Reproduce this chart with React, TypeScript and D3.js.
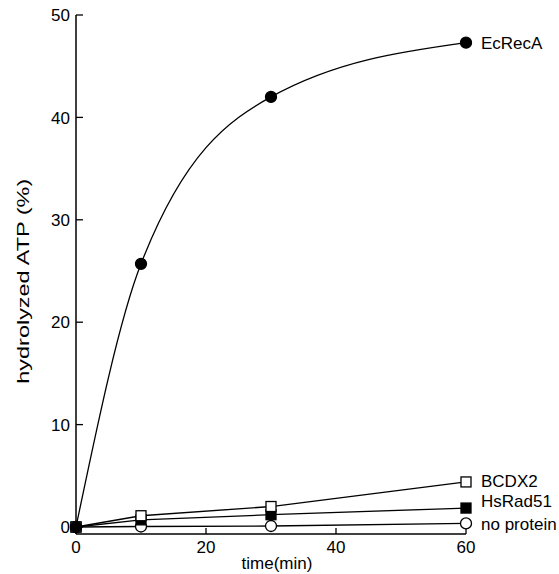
import React, { useEffect, useRef } from 'react';
import * as d3 from 'd3';

const times = [0, 10, 30, 60];
const ecRecA = [0, 25.7, 42, 47.3];
const bcdx2 = [0, 1.1, 2.0, 4.4];
const hsRad51 = [0, 0.7, 1.2, 1.85];
const noProtein = [0, 0.05, 0.1, 0.35];
const xTicks = [0, 20, 40, 60];
const yTicks = [0, 10, 20, 30, 40, 50];

function App() {
  const ref = useRef<SVGSVGElement>(null);

  useEffect(() => {
    const svg = d3.select(ref.current);
    svg.selectAll('*').remove();
    const font = 'Liberation Sans, Arial, sans-serif';

    const x = d3.scaleLinear().domain([0, 60]).range([76, 466]);
    const y = d3.scaleLinear().domain([0, 50]).range([527, 15]);
    const axisY = 534;

    // axes (x axis sits a little below y = 0)
    svg.append('line').attr('x1', 76).attr('x2', 76).attr('y1', y(50)).attr('y2', axisY)
      .attr('stroke', '#000').attr('stroke-width', 1.5);
    svg.append('line').attr('x1', 76).attr('x2', x(60)).attr('y1', axisY).attr('y2', axisY)
      .attr('stroke', '#000').attr('stroke-width', 1.5);

    yTicks.forEach((t) => {
      svg.append('line').attr('x1', 76).attr('x2', 83).attr('y1', y(t)).attr('y2', y(t))
        .attr('stroke', '#000').attr('stroke-width', 1.3);
      svg.append('text').attr('x', 70).attr('y', y(t)).attr('dy', '0.36em')
        .attr('text-anchor', 'end').attr('font-family', font).attr('font-size', 17).text(t);
    });
    xTicks.forEach((t) => {
      svg.append('line').attr('x1', x(t)).attr('x2', x(t)).attr('y1', axisY).attr('y2', axisY - 6)
        .attr('stroke', '#000').attr('stroke-width', 1.3);
      svg.append('text').attr('x', x(t)).attr('y', axisY + 19)
        .attr('text-anchor', 'middle').attr('font-family', font).attr('font-size', 17).text(t);
    });

    svg.append('text').attr('x', x(30) + 6).attr('y', 569).attr('text-anchor', 'middle')
      .attr('font-family', font).attr('font-size', 17).text('time(min)');
    svg.append('text').attr('transform', `translate(29,${y(24)}) rotate(-90)`)
      .attr('text-anchor', 'middle').attr('font-family', font).attr('font-size', 17)
      .attr('textLength', 205).attr('lengthAdjust', 'spacingAndGlyphs')
      .text('hydrolyzed ATP (%)');

    const series = [
      { name: 'no protein', values: noProtein, marker: 'circle', fill: '#fff', curve: d3.curveLinear, dy: 0 },
      { name: 'HsRad51', values: hsRad51, marker: 'square', fill: '#000', curve: d3.curveLinear, dy: -7 },
      { name: 'BCDX2', values: bcdx2, marker: 'square', fill: '#fff', curve: d3.curveLinear, dy: -1 },
      { name: 'EcRecA', values: ecRecA, marker: 'circle', fill: '#000', curve: d3.curveMonotoneX, dy: 0 },
    ];

    series.forEach((s) => {
      const pts = times.map((t, i) => [t, s.values[i]] as [number, number]);
      const line = d3.line<[number, number]>().x((d) => x(d[0])).y((d) => y(d[1])).curve(s.curve);
      svg.append('path').attr('d', line(pts)).attr('fill', 'none')
        .attr('stroke', '#000').attr('stroke-width', 1.3);
    });

    series.forEach((s) => {
      const pts = times.map((t, i) => [t, s.values[i]] as [number, number]);
      pts.forEach((p) => {
        if (s.marker === 'circle') {
          svg.append('circle').attr('cx', x(p[0])).attr('cy', y(p[1])).attr('r', 5.5)
            .attr('fill', s.fill).attr('stroke', '#000').attr('stroke-width', 1.3);
        } else {
          svg.append('rect').attr('x', x(p[0]) - 5).attr('y', y(p[1]) - 5)
            .attr('width', 10).attr('height', 10)
            .attr('fill', s.fill).attr('stroke', '#000').attr('stroke-width', 1.3);
        }
      });
      const last = s.values[s.values.length - 1];
      svg.append('text').attr('x', x(60) + 15).attr('y', y(last) + s.dy).attr('dy', '0.36em')
        .attr('font-family', font).attr('font-size', 17).text(s.name);
    });
  }, []);

  return (
    <svg ref={ref} width={559} height={574}
      style={{ position: 'absolute', left: 0, top: 0, background: '#fff' }} />
  );
}

export default App;
